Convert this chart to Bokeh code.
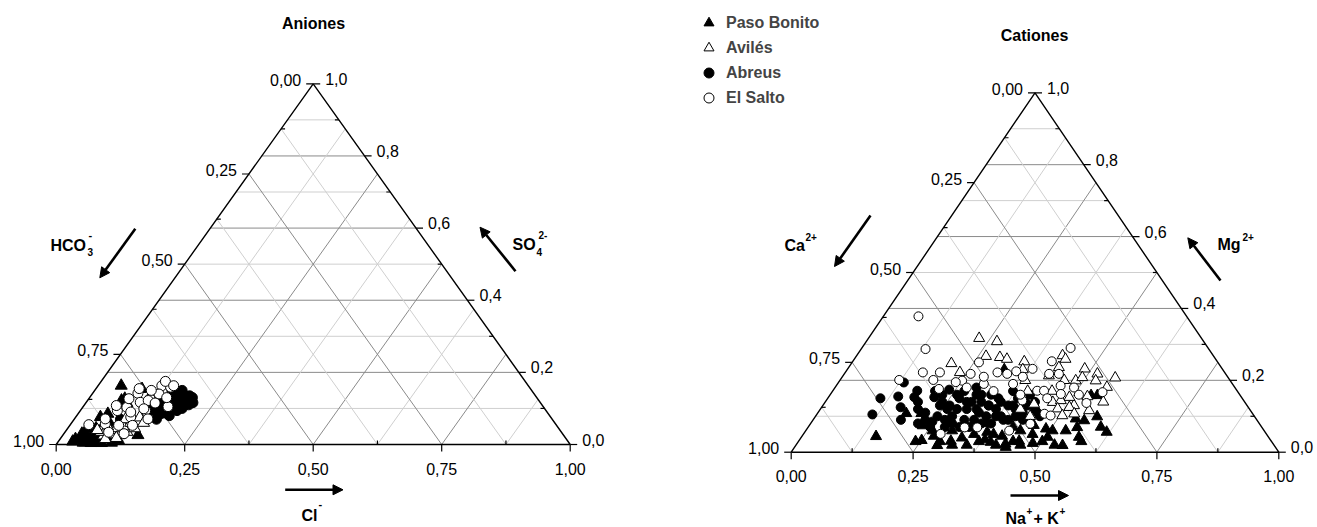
import numpy as np
from bokeh.plotting import figure
from bokeh.layouts import row
from bokeh.models import ColumnDataSource, Label, Arrow, NormalHead, Legend, LegendItem, Range1d
from bokeh.embed import file_html
from bokeh.resources import INLINE
from bokeh.core.properties import value

FONT = "Liberation Sans"

# ---------------- data ----------------
series_names = ["Paso Bonito", "Avilés", "Abreus", "El Salto"]

# Anions: fractions of Cl- (bottom axis) and SO4 2- (right axis); HCO3- = 1 - Cl - SO4
an_paso_cl = [0.045, 0.066, 0.146, 0.042, 0.059, 0.075, 0.048, 0.061, 0.083, 0.094, 0.048, 0.090, 0.070, 0.058, 0.035,
              0.053, 0.078, 0.040, 0.030, 0.066, 0.086, 0.055, 0.072, 0.100, 0.110, 0.066, 0.028, 0.097, 0.080, 0.050,
              0.105, 0.115, 0.038, 0.068]
an_paso_so4 = [0.163, 0.122, 0.026, 0.030, 0.016, 0.011, 0.011, 0.025, 0.020, 0.030, 0.076, 0.154, 0.127, 0.085, 0.030,
               0.006, 0.006, 0.020, 0.015, 0.004, 0.004, 0.045, 0.062, 0.014, 0.040, 0.036, 0.008, 0.052, 0.115, 0.005,
               0.005, 0.012, 0.042, 0.018]

an_aviles_cl = [0.080, 0.090, 0.100, 0.110, 0.085, 0.095, 0.120, 0.105, 0.070, 0.130, 0.115, 0.075, 0.060, 0.100,
                0.125, 0.140, 0.088, 0.108]
an_aviles_so4 = [0.025, 0.030, 0.028, 0.032, 0.040, 0.045, 0.035, 0.050, 0.035, 0.045, 0.060, 0.050, 0.040, 0.070,
                 0.075, 0.060, 0.015, 0.018]

an_abreus_cl = [0.183, 0.203, 0.159, 0.188, 0.161, 0.147, 0.174, 0.208, 0.182, 0.170, 0.172, 0.149, 0.165, 0.190, 0.195,
                0.155, 0.175, 0.140, 0.180, 0.160, 0.145, 0.135, 0.150, 0.170, 0.200, 0.125, 0.060, 0.045, 0.090,
                0.185, 0.178, 0.192, 0.163]
an_abreus_so4 = [0.117, 0.110, 0.140, 0.094, 0.085, 0.099, 0.085, 0.116, 0.136, 0.117, 0.089, 0.085, 0.130, 0.125, 0.100,
                 0.115, 0.100, 0.120, 0.080, 0.070, 0.075, 0.105, 0.150, 0.150, 0.130, 0.095, 0.030, 0.020, 0.070,
                 0.105, 0.128, 0.135, 0.095]

an_salto_cl = [0.088, 0.119, 0.124, 0.143, 0.105, 0.072, 0.086, 0.107, 0.095, 0.067, 0.036, 0.127, 0.122, 0.117, 0.085,
               0.125, 0.147, 0.060, 0.063, 0.078, 0.084, 0.118, 0.121, 0.143, 0.130, 0.100, 0.110, 0.135, 0.165, 0.150]
an_salto_so4 = [0.142, 0.127, 0.163, 0.159, 0.117, 0.094, 0.103, 0.076, 0.053, 0.057, 0.055, 0.094, 0.053, 0.030, 0.034,
                0.175, 0.163, 0.071, 0.108, 0.127, 0.155, 0.122, 0.099, 0.071, 0.140, 0.090, 0.150, 0.115, 0.105, 0.130]

# Cations: fractions of Na+ + K+ (bottom axis) and Mg2+ (right axis); Ca2+ = 1 - NaK - Mg
cat_paso_nak = [0.152, 0.182, 0.213, 0.233, 0.251, 0.290, 0.312, 0.395, 0.433, 0.452, 0.483, 0.374, 0.322, 0.536, 0.549,
                0.578, 0.619, 0.569, 0.547, 0.557, 0.537, 0.428, 0.505, 0.533, 0.552, 0.506, 0.350, 0.410, 0.440, 0.470,
                0.380, 0.300, 0.260, 0.330, 0.460, 0.490, 0.420, 0.360, 0.270, 0.240, 0.320, 0.370, 0.410, 0.460,
                0.500, 0.530, 0.580, 0.600, 0.440, 0.390, 0.290, 0.350]
cat_paso_mg = [0.044, 0.108, 0.108, 0.074, 0.033, 0.019, 0.031, 0.028, 0.014, 0.031, 0.025, 0.056, 0.230, 0.158, 0.158,
               0.099, 0.056, 0.042, 0.019, 0.088, 0.093, 0.023, 0.042, 0.060, 0.069, 0.060, 0.050, 0.045, 0.060, 0.050,
               0.035, 0.060, 0.060, 0.040, 0.075, 0.065, 0.070, 0.080, 0.045, 0.030, 0.020, 0.030, 0.020, 0.020,
               0.030, 0.020, 0.030, 0.070, 0.030, 0.050, 0.030, 0.020]

cat_aviles_nak = [0.205, 0.227, 0.268, 0.266, 0.296, 0.313, 0.352, 0.235, 0.422, 0.433, 0.486, 0.519, 0.561, 0.525,
                  0.557, 0.484, 0.493, 0.553, 0.515, 0.494, 0.431, 0.422, 0.431, 0.467, 0.481, 0.508, 0.527, 0.486,
                  0.505, 0.380, 0.400, 0.450, 0.360, 0.460, 0.410, 0.440, 0.530, 0.570]
cat_aviles_mg = [0.247, 0.317, 0.308, 0.267, 0.264, 0.259, 0.252, 0.222, 0.269, 0.259, 0.232, 0.218, 0.207, 0.199,
                 0.181, 0.199, 0.208, 0.116, 0.130, 0.153, 0.236, 0.213, 0.134, 0.139, 0.144, 0.125, 0.107, 0.121,
                 0.102, 0.200, 0.170, 0.170, 0.230, 0.200, 0.120, 0.100, 0.155, 0.140]

cat_abreus_nak = [0.114, 0.108, 0.134, 0.142, 0.162, 0.176, 0.173, 0.247, 0.217, 0.237, 0.200, 0.220, 0.240, 0.260,
                  0.280, 0.300, 0.270, 0.290, 0.310, 0.330, 0.350, 0.320, 0.250, 0.340, 0.360, 0.380, 0.300, 0.230,
                  0.190, 0.260, 0.280, 0.370, 0.400, 0.390, 0.420, 0.440, 0.210, 0.180, 0.460, 0.330, 0.410,
                  0.220, 0.250, 0.270, 0.290, 0.310, 0.330, 0.350, 0.370, 0.390, 0.410, 0.430, 0.240, 0.260, 0.280,
                  0.300, 0.320, 0.340, 0.360, 0.380, 0.400, 0.420, 0.450, 0.230, 0.270, 0.310, 0.350, 0.390, 0.430,
                  0.290, 0.330, 0.370, 0.410]
cat_abreus_mg = [0.105, 0.150, 0.194, 0.155, 0.125, 0.153, 0.171, 0.085, 0.153, 0.174, 0.120, 0.110, 0.130, 0.120,
                 0.100, 0.120, 0.150, 0.140, 0.090, 0.110, 0.100, 0.140, 0.100, 0.130, 0.120, 0.100, 0.160, 0.090,
                 0.140, 0.160, 0.070, 0.080, 0.090, 0.130, 0.110, 0.120, 0.170, 0.090, 0.100, 0.070, 0.140,
                 0.080, 0.070, 0.090, 0.080, 0.070, 0.090, 0.080, 0.100, 0.090, 0.100, 0.090, 0.140, 0.130, 0.120,
                 0.140, 0.120, 0.130, 0.140, 0.130, 0.120, 0.130, 0.110, 0.160, 0.170, 0.160, 0.150, 0.150, 0.140,
                 0.180, 0.160, 0.170, 0.160]

cat_salto_nak = [0.072, 0.132, 0.159, 0.121, 0.281, 0.191, 0.194, 0.215, 0.260, 0.259, 0.251, 0.312, 0.334, 0.349,
                 0.379, 0.347, 0.321, 0.417, 0.428, 0.408, 0.555, 0.537, 0.460, 0.420, 0.440, 0.451, 0.466, 0.481,
                 0.402, 0.419, 0.433, 0.472, 0.300, 0.360, 0.390, 0.330, 0.270, 0.450, 0.370, 0.290, 0.240, 0.490,
                 0.510]
cat_salto_mg = [0.378, 0.287, 0.222, 0.201, 0.051, 0.201, 0.222, 0.176, 0.250, 0.218, 0.199, 0.222, 0.218, 0.225,
                0.232, 0.069, 0.069, 0.060, 0.290, 0.253, 0.167, 0.137, 0.185, 0.218, 0.218, 0.079, 0.107, 0.102,
                0.144, 0.171, 0.171, 0.162, 0.190, 0.190, 0.160, 0.170, 0.180, 0.150, 0.210, 0.210, 0.195, 0.180,
                0.160]

bottom_tick_vals = [0.0, 0.25, 0.5, 0.75, 1.0]
bottom_tick_labels = ["0,00", "0,25", "0,50", "0,75", "1,00"]
left_tick_vals = [0.0, 0.25, 0.5, 0.75, 1.0]          # height fraction (1 - left value)
left_tick_labels = ["1,00", "0,75", "0,50", "0,25", "0,00"]
right_tick_vals = [0.0, 0.2, 0.4, 0.6, 0.8, 1.0]
right_tick_labels = ["0,0", "0,2", "0,4", "0,6", "0,8", "1,0"]

PAGE_H = 527
DARK = "#8a8a8a"
LIGHT = "#cfcfcf"
TICK_FS = "16px"


def tern(a, b):
    a = np.asarray(a, dtype=float)
    b = np.asarray(b, dtype=float)
    return a + b / 2.0, b


class Geo:
    def __init__(self, off, width, bx, by, W, Hh):
        self.off, self.width, self.bx, self.by, self.W, self.Hh = off, width, bx, by, W, Hh

    def d(self, px, py):
        return (px - self.bx) / self.W, (self.by - py) / self.Hh


def make_fig(g):
    p = figure(width=g.width, height=PAGE_H, output_backend="svg", toolbar_location=None,
               x_range=Range1d((g.off - g.bx) / g.W, (g.off + g.width - g.bx) / g.W),
               y_range=Range1d(-(PAGE_H - g.by) / g.Hh, g.by / g.Hh),
               x_axis_type=None, y_axis_type=None, min_border=0)
    p.grid.visible = False
    p.outline_line_color = None
    p.background_fill_color = "white"
    p.border_fill_color = "white"
    return p


def draw_frame(p, g):
    for k in range(1, 10):
        s = k / 10
        p.line([s / 2, 1 - s / 2], [s, s], line_color=DARK if k % 2 == 0 else LIGHT, line_width=1)
    for k in range(1, 8):
        a = k / 8
        col = DARK if k % 2 == 0 else LIGHT
        p.line([a, a + (1 - a) / 2], [0, 1 - a], line_color=col, line_width=1)
        p.line([a, a / 2], [0, a], line_color=col, line_width=1)
    p.line([0, 1, 0.5, 0], [0, 0, 1, 0], line_color="black", line_width=1.4)
    x0, y0, x1, y1 = [], [], [], []
    for k in range(9):
        a = k / 8
        x0.append(a); y0.append(0); x1.append(a)
        y1.append(-7 / g.Hh if k % 2 == 0 else 4 / g.Hh)
        s = k / 8
        x0.append(s / 2); y0.append(s); y1.append(s)
        x1.append(s / 2 - 7 / g.W if k % 2 == 0 else s / 2 + 4 / g.W)
    for k in range(11):
        s = k / 10
        x0.append(1 - s / 2); y0.append(s); y1.append(s)
        x1.append(1 - s / 2 + 7 / g.W if k % 2 == 0 else 1 - s / 2 - 4 / g.W)
    p.segment(x0, y0, x1, y1, line_color="black", line_width=1.2)
    bt = ColumnDataSource(dict(x=bottom_tick_vals, y=[-24 / g.Hh] * len(bottom_tick_vals), t=bottom_tick_labels))
    p.text("x", "y", "t", source=bt, text_font=value(FONT), text_font_size=TICK_FS,
           text_align="center", text_baseline="middle", text_color="black")
    lv = np.array(left_tick_vals)
    lt = ColumnDataSource(dict(x=lv / 2 - 12 / g.W, y=lv + 4 / g.Hh, t=left_tick_labels))
    p.text("x", "y", "t", source=lt, text_font=value(FONT), text_font_size=TICK_FS,
           text_align="right", text_baseline="middle", text_color="black")
    rv = np.array(right_tick_vals)
    rt = ColumnDataSource(dict(x=1 - rv / 2 + 12 / g.W, y=rv + 5 / g.Hh, t=right_tick_labels))
    p.text("x", "y", "t", source=rt, text_font=value(FONT), text_font_size=TICK_FS,
           text_align="left", text_baseline="middle", text_color="black")


def label(p, g, px, py, text, size, align="left", baseline="alphabetic"):
    x, y = g.d(px, py)
    p.add_layout(Label(x=x, y=y, text=text, text_font=FONT, text_font_size=f"{size}px",
                       text_font_style="bold", text_align=align, text_baseline=baseline, text_color="black"))


def arrow(p, g, p0, p1):
    xs, ys = g.d(*p0)
    xe, ye = g.d(*p1)
    p.add_layout(Arrow(end=NormalHead(size=10, fill_color="black", line_color="black"),
                       x_start=xs, y_start=ys, x_end=xe, y_end=ye, line_width=2.6, line_color="black"))


def draw_points(p, a_list, b_list, csize, tsize):
    rends = {}
    styles = {
        "Paso Bonito": ("triangle", "black", tsize),
        "Avilés": ("triangle", "white", tsize),
        "Abreus": ("circle", "black", csize),
        "El Salto": ("circle", "white", csize),
    }
    order = ["Abreus", "Paso Bonito", "Avilés", "El Salto"]
    for name in order:
        i = series_names.index(name)
        x, y = tern(a_list[i], b_list[i])
        m, fc, sz = styles[name]
        rends[name] = p.scatter(x, y, marker=m, size=sz, fill_color=fc, line_color="black", line_width=1)
    return rends


# ---------------- left: Aniones ----------------
gL = Geo(0, 660, 55.7, 444.0, 514.0, 360.7)
pL = make_fig(gL)
draw_frame(pL, gL)
draw_points(pL, [an_paso_cl, an_aviles_cl, an_abreus_cl, an_salto_cl],
            [an_paso_so4, an_aviles_so4, an_abreus_so4, an_salto_so4], 10, 12)
label(pL, gL, 313, 23, "Aniones", 16, align="center", baseline="middle")
label(pL, gL, 50, 245, "HCO", 16)
label(pL, gL, 87, 251, "3", 10)
label(pL, gL, 88, 234, "-", 11)
arrow(pL, gL, (134.8, 228.3), (99.3, 277.3))
label(pL, gL, 512, 244, "SO", 16)
label(pL, gL, 536, 251, "4", 10)
label(pL, gL, 538, 234, "2-", 10)
arrow(pL, gL, (515.0, 270.7), (479.5, 226.7))
label(pL, gL, 301, 515, "Cl", 16)
label(pL, gL, 318, 503, "-", 11)
arrow(pL, gL, (284.7, 489.3), (342.5, 489.3))

# ---------------- right: Cationes ----------------
gR = Geo(660, 657, 790.7, 451.7, 487.6, 359.4)
pR = make_fig(gR)
draw_frame(pR, gR)
rends = draw_points(pR, [cat_paso_nak, cat_aviles_nak, cat_abreus_nak, cat_salto_nak],
                    [cat_paso_mg, cat_aviles_mg, cat_abreus_mg, cat_salto_mg], 9, 11)
label(pR, gR, 1034, 35, "Cationes", 16, align="center", baseline="middle")
label(pR, gR, 784, 245, "Ca", 16)
label(pR, gR, 805, 236, "2+", 10)
arrow(pR, gR, (870.0, 215.0), (834.0, 266.0))
label(pR, gR, 1217, 244, "Mg", 16)
label(pR, gR, 1242, 236, "2+", 10)
arrow(pR, gR, (1220.0, 280.0), (1187.3, 237.3))
label(pR, gR, 1005, 518, "Na", 16)
label(pR, gR, 1026, 510, "+", 10)
label(pR, gR, 1033, 518, "+ K", 16)
label(pR, gR, 1059, 510, "+", 10)
arrow(pR, gR, (1010.0, 495.0), (1068.0, 495.0))

legend = Legend(items=[LegendItem(label=n, renderers=[rends[n]]) for n in series_names],
                location=(36, 417), orientation="vertical",
                label_text_font=FONT, label_text_font_size="16px", label_text_font_style="bold",
                glyph_width=25, glyph_height=25, label_height=25, spacing=0, padding=0, margin=0,
                label_standoff=5, border_line_color=None, background_fill_alpha=0)
pR.add_layout(legend)

layout = row(pL, pR, spacing=0)
open("out.html", "w").write(file_html(layout, INLINE))
